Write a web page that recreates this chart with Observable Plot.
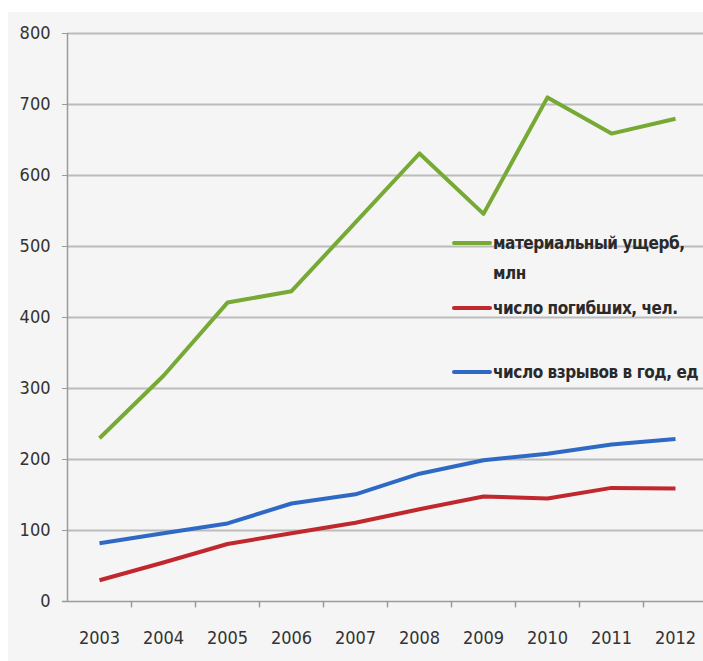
<!DOCTYPE html>
<html>
<head>
<meta charset="utf-8">
<script src="https://cdn.jsdelivr.net/npm/d3@7"></script>
<script src="https://cdn.jsdelivr.net/npm/@observablehq/plot@0.6"></script>
<style>
  html, body { margin: 0; padding: 0; background: #ffffff; }
  #wrap { position: relative; width: 703px; height: 661px; overflow: hidden; background: #ffffff;
          font-family: "Liberation Sans Narrow", "DejaVu Sans Condensed", "Open Sans", sans-serif; }
  #bg { position: absolute; left: 8px; top: 12px; right: 0; bottom: 0; background: #f5f5f5; }
  #wrap svg { position: absolute; left: 0; top: 0; }
  .leg { position: absolute; left: 452px; display: flex; align-items: flex-start; font-size: 17px; color: #2a2a2a;
         font-weight: 600; letter-spacing: -0.45px; white-space: nowrap; line-height: 30px; }
  .sw { width: 40px; height: 4px; margin-top: 13px; margin-right: 1px; border-radius: 2px; flex: none; }
</style>
</head>
<body>
<div id="wrap"><div id="bg"></div></div>
<script>
const years = [2003, 2004, 2005, 2006, 2007, 2008, 2009, 2010, 2011, 2012];
const damage = [230, 318, 421, 437, 534, 631, 546, 710, 659, 680];      // материальный ущерб, млн
const deaths = [30, 55, 81, 96, 111, 130, 148, 145, 160, 159];          // число погибших, чел.
const explosions = [82, 96, 110, 138, 151, 180, 199, 208, 221, 229];    // число взрывов в год, ед
const yTicks = [0, 100, 200, 300, 400, 500, 600, 700, 800];

const seriesNames = ["материальный ущерб,\nмлн", "число погибших, чел.", "число взрывов в год, ед"];
const seriesColors = ["#77a935", "#c0282e", "#2e6ac5"];
const seriesValues = [damage, deaths, explosions];

const rows = [];
seriesValues.forEach((vals, i) => vals.forEach((v, j) => rows.push({year: years[j], value: v, series: seriesNames[i]})));
const boundaries = years.map(y => y + 0.5);
const fontFam = '"Liberation Sans Narrow", "DejaVu Sans Condensed", "Open Sans", sans-serif';

const chart = Plot.plot({
  width: 703,
  height: 661,
  marginLeft: 67,
  marginRight: 0,
  marginTop: 33,
  marginBottom: 60,
  style: { background: "transparent", fontFamily: fontFam, fontSize: "18px", color: "#333", overflow: "visible" },
  x: { type: "linear", domain: [years[0] - 0.5, years[years.length - 1] + 0.5], range: [67, 707] },
  y: { domain: [0, 800] },
  color: { domain: seriesNames, range: seriesColors },
  marks: [
    Plot.ruleY(yTicks.filter(t => t > 0), { stroke: "#bcbcbc", strokeWidth: 2 }),
    Plot.ruleY([0], { x1: years[0] - 0.58, x2: years[years.length - 1] + 0.5, stroke: "#9a9a9a", strokeWidth: 1.5 }),
    Plot.ruleX([years[0] - 0.5], { y1: 0, y2: 800, stroke: "#9a9a9a", strokeWidth: 1.5 }),
    Plot.ruleX(boundaries, { y1: 0, y2: -9, stroke: "#9a9a9a", strokeWidth: 1.5 }),
    Plot.axisY({ ticks: yTicks, tickSize: 5, tickPadding: 12, stroke: "#9a9a9a", label: null, fill: "#333" }),
    Plot.axisX({ ticks: years, tickSize: 0, tickPadding: 30, tickFormat: d => String(d), label: null, fill: "#333" }),
    Plot.line(rows, { x: "year", y: "value", z: "series", stroke: "series", strokeWidth: 4, strokeLinejoin: "round", strokeLinecap: "butt" })
  ]
});

const wrap = document.getElementById("wrap");
wrap.appendChild(chart);

const legendTops = [228, 293, 357];
seriesNames.forEach((name, i) => {
  const d = document.createElement("div");
  d.className = "leg";
  d.style.top = legendTops[i] + "px";
  const sw = document.createElement("div");
  sw.className = "sw";
  sw.style.background = seriesColors[i];
  const t = document.createElement("div");
  t.innerHTML = name.replace("\n", "<br>");
  d.appendChild(sw);
  d.appendChild(t);
  wrap.appendChild(d);
});
</script>
</body>
</html>
